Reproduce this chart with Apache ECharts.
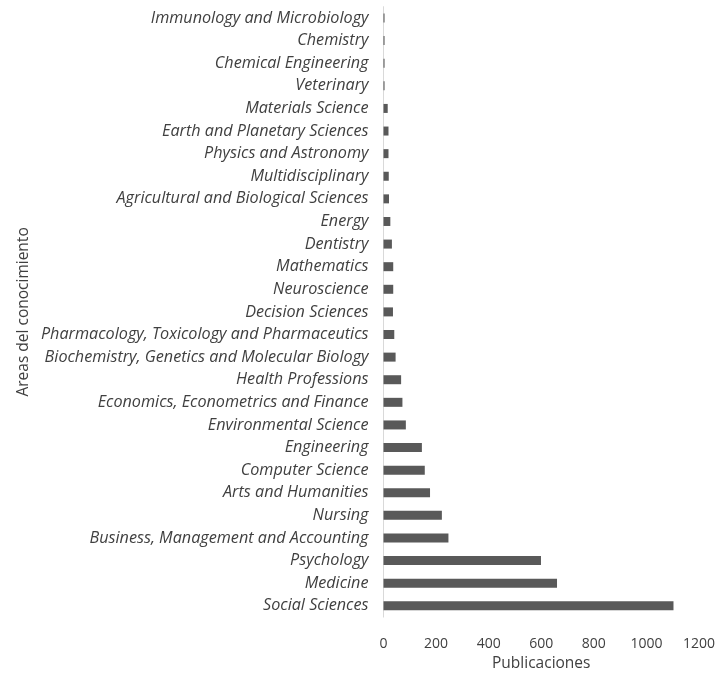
<!DOCTYPE html>
<html>
<head>
<meta charset="utf-8">
<script src="https://cdn.jsdelivr.net/npm/echarts@6/dist/echarts.min.js"></script>
<style>html,body{margin:0;padding:0;background:#fff;}#c{width:718px;height:677px;}</style>
</head>
<body>
<div id="c"></div>
<script>
const categories = [
  "Social Sciences", "Medicine", "Psychology", "Business, Management and Accounting",
  "Nursing", "Arts and Humanities", "Computer Science", "Engineering",
  "Environmental Science", "Economics, Econometrics and Finance", "Health Professions",
  "Biochemistry, Genetics and Molecular Biology", "Pharmacology, Toxicology and Pharmaceutics",
  "Decision Sciences", "Neuroscience", "Mathematics", "Dentistry", "Energy",
  "Agricultural and Biological Sciences", "Multidisciplinary", "Physics and Astronomy",
  "Earth and Planetary Sciences", "Materials Science", "Veterinary",
  "Chemical Engineering", "Chemistry", "Immunology and Microbiology"
];
const values = [
  1103, 660, 599, 247,
  222, 177, 157, 146,
  85, 72, 67,
  46, 41,
  36, 37, 37, 32, 26,
  21, 20, 19,
  19, 16, 4,
  4, 4, 4
];
const xTicks = { min: 0, max: 1200, interval: 200 };
const xName = "Publicaciones";
const yName = "Areas del conocimiento";

const chart = echarts.init(document.getElementById('c'), null, { renderer: 'canvas' });
chart.setOption({
  backgroundColor: '#ffffff',
  animation: false,
  grid: { left: 383.5, right: 15, top: 6.7, bottom: 59.7, containLabel: false },
  xAxis: {
    type: 'value', min: xTicks.min, max: xTicks.max, interval: xTicks.interval,
    name: xName, nameLocation: 'middle', nameGap: 38,
    nameTextStyle: { fontFamily: 'Open Sans', fontSize: 15.5, color: '#404040' },
    axisLine: { show: false }, axisTick: { show: false }, splitLine: { show: false },
    axisLabel: { fontFamily: 'Open Sans', fontSize: 14, color: '#404040', margin: 20,
      formatter: function (v) { return String(v); } }
  },
  yAxis: {
    type: 'category', data: categories,
    name: yName, nameLocation: 'middle', nameGap: 352, nameRotate: 90,
    nameTextStyle: { fontFamily: 'Open Sans', fontSize: 15.5, color: '#404040' },
    axisLine: { show: true, lineStyle: { color: '#d9d9d9', width: 1 } },
    axisTick: { show: false },
    axisLabel: { fontFamily: 'Open Sans', fontStyle: 'italic', fontSize: 16.2, color: '#404040', margin: 15 }
  },
  series: [{
    type: 'bar', data: values, barWidth: 9,
    itemStyle: { color: '#595959' }
  }]
});
</script>
</body>
</html>
